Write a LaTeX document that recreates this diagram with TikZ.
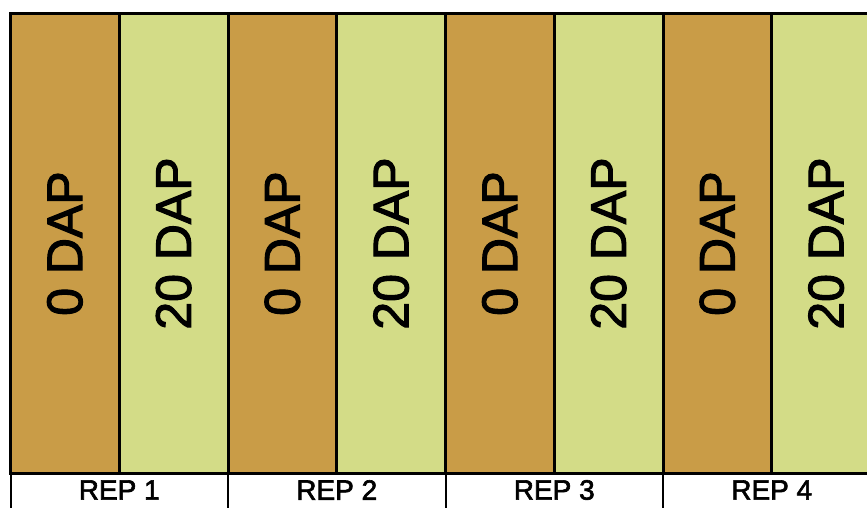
\documentclass[tikz,border=0pt]{standalone}
\usepackage{fontspec}
\setmainfont{Liberation Sans}
\newfontfamily\labelfont[FakeBold=2.2]{Liberation Sans}
\definecolor{dapzero}{RGB}{201,156,71}
\definecolor{daptwenty}{RGB}{211,220,135}

\begin{document}
\begin{tikzpicture}[x=1pt,y=-1pt,
  plot/.style={draw=black,line width=3pt,minimum width=108.75pt,minimum height=460pt,inner sep=0pt,outer sep=0pt,anchor=north west},
  repcell/.style={draw=black,line width=2pt,minimum width=217.5pt,minimum height=50pt,inner sep=0pt,outer sep=0pt,anchor=north west},
  dap/.style={rotate=90,font=\labelfont\fontsize{50}{50}\selectfont},
  rep/.style={font=\labelfont\fontsize{28}{28}\selectfont}]
\useasboundingbox (0,0) rectangle (867,508);
\fill[white] (0,0) rectangle (867,508);
\clip (0,0) rectangle (867,508);
\foreach \r in {1,...,4} {
  \node[plot,fill=dapzero] (zero\r) at ({10.5+(\r-1)*217.5},13.5) {};
  \node[plot,fill=daptwenty] (twenty\r) at ({119.25+(\r-1)*217.5},13.5) {};
  \node[dap] (zerotxt\r) at (zero\r.center) {0 DAP};
  \node[dap] (twentytxt\r) at (twenty\r.center) {20 DAP};
  \node[repcell] (rep\r) at (zero\r.south west) {};
  \node[rep] (reptxt\r) at ({119.25+(\r-1)*217.5},490) {REP \r};
}
\end{tikzpicture}
\end{document}
